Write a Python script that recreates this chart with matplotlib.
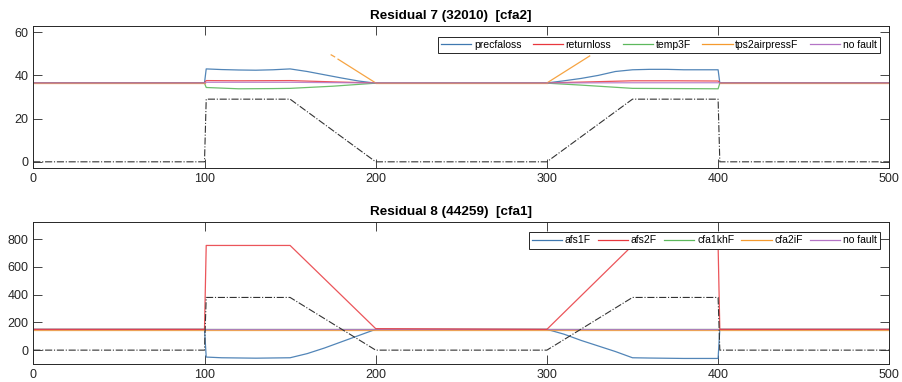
import matplotlib
matplotlib.use("Agg")
import matplotlib.pyplot as plt

plt.rcParams['font.family'] = ['Liberation Sans', 'DejaVu Sans']

# ---------------- Residual 7 data ----------------
r7_title = "Residual 7 (32010)  [cfa2]"
r7_labels = ["precfaloss", "returnloss", "temp3F", "tps2airpressF", "no fault"]

r7_prec_x = [0, 100, 101, 110, 120, 130, 140, 150, 160, 170, 180, 190, 200,
             300, 310, 320, 330, 340, 350, 360, 370, 380, 390, 400, 401, 500]
r7_prec_y = [36.5, 36.5, 43.0, 42.7, 42.5, 42.4, 42.6, 43.0, 41.8, 40.3, 38.8, 37.4, 36.4,
             36.5, 37.5, 38.6, 40.0, 41.8, 42.6, 42.8, 42.8, 42.6, 42.6, 42.6, 36.5, 36.5]

r7_ret_x = [0, 100, 101, 120, 150, 175, 200, 300, 325, 350, 375, 400, 401, 500]
r7_ret_y = [36.6, 36.6, 37.6, 37.5, 37.6, 37.0, 36.5, 36.5, 37.0, 37.5, 37.5, 37.4, 36.6, 36.6]

r7_temp_x = [0, 100, 101, 120, 140, 150, 175, 200, 300, 320, 340, 350, 375, 400, 401, 500]
r7_temp_y = [36.4, 36.4, 34.4, 33.8, 33.9, 34.0, 35.0, 36.4, 36.4, 35.5, 34.5, 34.0, 33.9, 33.8, 36.4, 36.4]

r7_tps_segs_x = [[0, 100], [174, 176], [178, 200], [200, 300], [300, 325], [401, 500]]
r7_tps_segs_y = [[36.5, 36.5], [49.5, 48.6], [47.5, 36.5], [36.5, 36.5], [36.5, 49.0], [36.5, 36.5]]

r7_nof_x = [0, 100, 101, 150, 200, 300, 350, 400, 401, 500]
r7_nof_y = [36.5, 36.5, 36.8, 36.8, 36.5, 36.5, 36.6, 36.6, 36.5, 36.5]

r7_fault_x = [0, 100, 101, 150, 200, 300, 350, 400, 401, 500]
r7_fault_y = [0, 0, 29, 29, 0, 0, 29, 29, 0, 0]

# ---------------- Residual 8 data ----------------
r8_title = "Residual 8 (44259)  [cfa1]"
r8_labels = ["afs1F", "afs2F", "cfa1khF", "cfa2iF", "no fault"]

r8_afs1_x = [0, 100, 101, 110, 130, 150, 160, 170, 180, 190, 200,
             300, 310, 320, 330, 340, 350, 360, 380, 400, 401, 500]
r8_afs1_y = [150, 150, -50, -55, -58, -55, -25, 15, 60, 105, 150,
             150, 115, 70, 30, -10, -55, -57, -60, -60, 150, 150]

r8_afs2_x = [0, 100, 101, 150, 200, 300, 350, 400, 401, 500]
r8_afs2_y = [150, 150, 755, 755, 155, 150, 755, 755, 150, 150]

r8_cfa1_x = [0, 500]
r8_cfa1_y = [150, 150]
r8_cfa2_x = [0, 500]
r8_cfa2_y = [148, 148]
r8_nof_x = [0, 500]
r8_nof_y = [152, 152]

r8_fault_x = [0, 100, 101, 150, 200, 300, 350, 400, 401, 500]
r8_fault_y = [0, 0, 380, 380, 0, 0, 380, 380, 0, 0]

# ---------------- styling ----------------
C_BLUE = "#3f78b0"
C_RED = "#e8373d"
C_GREEN = "#5cb85c"
C_ORANGE = "#f59a2e"
C_PURPLE = "#b474c6"
C_AX = "#262626"

W, H = 902, 382
fig = plt.figure(figsize=(W / 100, H / 100), dpi=100)

def frac(x0, y0, x1, y1):
    return [x0 / W, 1 - y1 / H, (x1 - x0) / W, (y1 - y0) / H]

ax1 = fig.add_axes(frac(33.3, 25.7, 889.3, 168.3))
ax2 = fig.add_axes(frac(33.3, 222.3, 889.3, 364.0))

def style(ax, ylim, yticks, title):
    ax.set_xlim(0, 500)
    ax.set_ylim(*ylim)
    ax.set_xticks([0, 100, 200, 300, 400, 500])
    ax.set_yticks(yticks)
    ax.tick_params(direction='in', length=6.5, width=0.6, top=True, right=True,
                   labelsize=9, colors=C_AX, pad=3.5)
    for s in ax.spines.values():
        s.set_linewidth(0.7)
        s.set_color(C_AX)
    ax.set_title(title, fontsize=9.7, fontweight='bold', pad=5, x=0.488)

lw = 0.9
# Residual 7
l1, = ax1.plot(r7_prec_x, r7_prec_y, color=C_BLUE, lw=lw, alpha=0.9)
l2, = ax1.plot(r7_ret_x, r7_ret_y, color=C_RED, lw=lw, alpha=0.85)
l3, = ax1.plot(r7_temp_x, r7_temp_y, color=C_GREEN, lw=lw, alpha=0.9)
l4 = None
for sx, sy in zip(r7_tps_segs_x, r7_tps_segs_y):
    ln, = ax1.plot(sx, sy, color=C_ORANGE, lw=lw, alpha=0.9)
    if l4 is None:
        l4 = ln
l5, = ax1.plot(r7_nof_x, r7_nof_y, color=C_PURPLE, lw=lw, alpha=0.85)
ax1.plot(r7_fault_x, r7_fault_y, color="#333333", lw=0.8, ls='-.')
style(ax1, (-3, 63), [0, 20, 40, 60], r7_title)

# Residual 8
m1, = ax2.plot(r8_afs1_x, r8_afs1_y, color=C_BLUE, lw=lw, alpha=0.9)
m3, = ax2.plot(r8_cfa1_x, r8_cfa1_y, color=C_GREEN, lw=lw, alpha=0.85)
m4, = ax2.plot(r8_cfa2_x, r8_cfa2_y, color=C_ORANGE, lw=lw, alpha=0.85)
m5, = ax2.plot(r8_nof_x, r8_nof_y, color=C_PURPLE, lw=lw, alpha=0.85)
m2, = ax2.plot(r8_afs2_x, r8_afs2_y, color=C_RED, lw=lw, alpha=0.85)
ax2.plot(r8_fault_x, r8_fault_y, color="#333333", lw=0.8, ls='-.')
style(ax2, (-100, 922), [0, 200, 400, 600, 800], r8_title)

leg_kw = dict(ncol=5, fontsize=7.5, frameon=True, fancybox=False, framealpha=1,
              edgecolor=C_AX, handlelength=2.9, handletextpad=0.25,
              borderpad=0.3, borderaxespad=0, loc='upper right')
lg1 = ax1.legend([l1, l2, l3, l4, l5], r7_labels, bbox_to_anchor=(0.989, 0.923),
                 columnspacing=1.1, **leg_kw)
lg1.get_frame().set_linewidth(0.7)
lg2 = ax2.legend([m1, m2, m3, m4, m5], r8_labels, bbox_to_anchor=(0.989, 0.929),
                 columnspacing=0.7, **leg_kw)
lg2.get_frame().set_linewidth(0.7)
for lg in (lg1, lg2):
    for h in lg.legend_handles:
        h.set_alpha(1.0)

fig.savefig("out.png", dpi=100)
